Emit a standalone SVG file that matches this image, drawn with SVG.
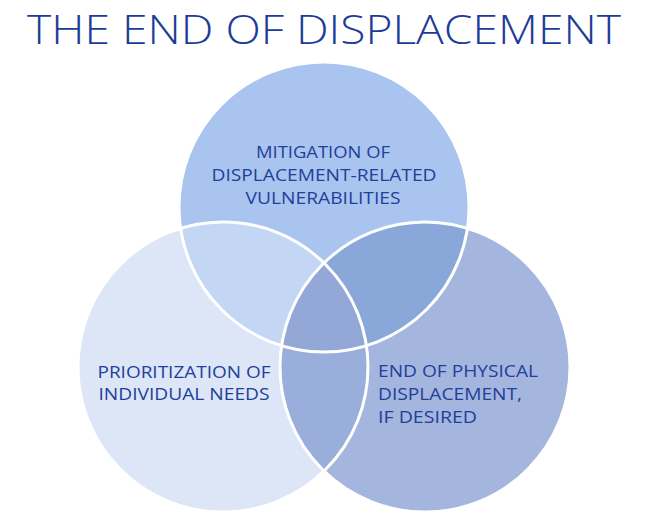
<svg xmlns="http://www.w3.org/2000/svg" width="645" height="527" viewBox="0 0 645 527">
<style>
.t{font-family:"Open Sans","Liberation Sans",sans-serif;font-weight:300;fill:#1d3c98}
.lbl{font-size:17px;font-weight:400;fill:#22409a}
.ring{fill:none;stroke:#ffffff;stroke-width:3}
</style>
<defs>
<clipPath id="cT"><circle cx="324" cy="207" r="145"/></clipPath>
<clipPath id="cL"><circle cx="223" cy="367" r="145"/></clipPath>
<clipPath id="cR"><circle cx="425" cy="367" r="145"/></clipPath>
</defs>
<rect width="645" height="527" fill="#ffffff"/>
<text class="t" x="27" y="44" font-size="41" textLength="594" lengthAdjust="spacingAndGlyphs">THE END OF DISPLACEMENT</text>
<g id="circle-left"><circle cx="223" cy="367" r="145" fill="#dce6f7"/></g>
<g id="circle-right"><circle cx="425" cy="367" r="145" fill="#a4b6de"/></g>
<g id="circle-top"><circle cx="324" cy="207" r="145" fill="#a9c5ef"/></g>
<g id="overlaps">
<g clip-path="url(#cT)"><circle cx="223" cy="367" r="145" fill="#c3d6f4"/></g>
<g clip-path="url(#cT)"><circle cx="425" cy="367" r="145" fill="#8aa7d9"/></g>
<g clip-path="url(#cL)"><circle cx="425" cy="367" r="145" fill="#9aaedc"/></g>
<g clip-path="url(#cL)"><g clip-path="url(#cT)"><circle cx="425" cy="367" r="145" fill="#94a8d8"/></g></g>
</g>
<g id="outlines">
<circle class="ring" cx="324" cy="207" r="145"/>
<circle class="ring" cx="223" cy="367" r="145"/>
<circle class="ring" cx="425" cy="367" r="145"/>
</g>
<g id="label-top" class="t lbl" text-anchor="middle">
<text x="323" y="158" textLength="134" lengthAdjust="spacingAndGlyphs">MITIGATION OF</text>
<text x="324" y="181" textLength="225" lengthAdjust="spacingAndGlyphs">DISPLACEMENT-RELATED</text>
<text x="323" y="204" textLength="155" lengthAdjust="spacingAndGlyphs">VULNERABILITIES</text>
</g>
<g id="label-left" class="t lbl" text-anchor="middle">
<text x="184" y="378" textLength="173" lengthAdjust="spacingAndGlyphs">PRIORITIZATION OF</text>
<text x="184" y="400" textLength="171" lengthAdjust="spacingAndGlyphs">INDIVIDUAL NEEDS</text>
</g>
<g id="label-right" class="t lbl">
<text x="378" y="377" textLength="160" lengthAdjust="spacingAndGlyphs">END OF PHYSICAL</text>
<text x="378" y="400" textLength="144" lengthAdjust="spacingAndGlyphs">DISPLACEMENT,</text>
<text x="378" y="423" textLength="99" lengthAdjust="spacingAndGlyphs">IF DESIRED</text>
</g>
</svg>
